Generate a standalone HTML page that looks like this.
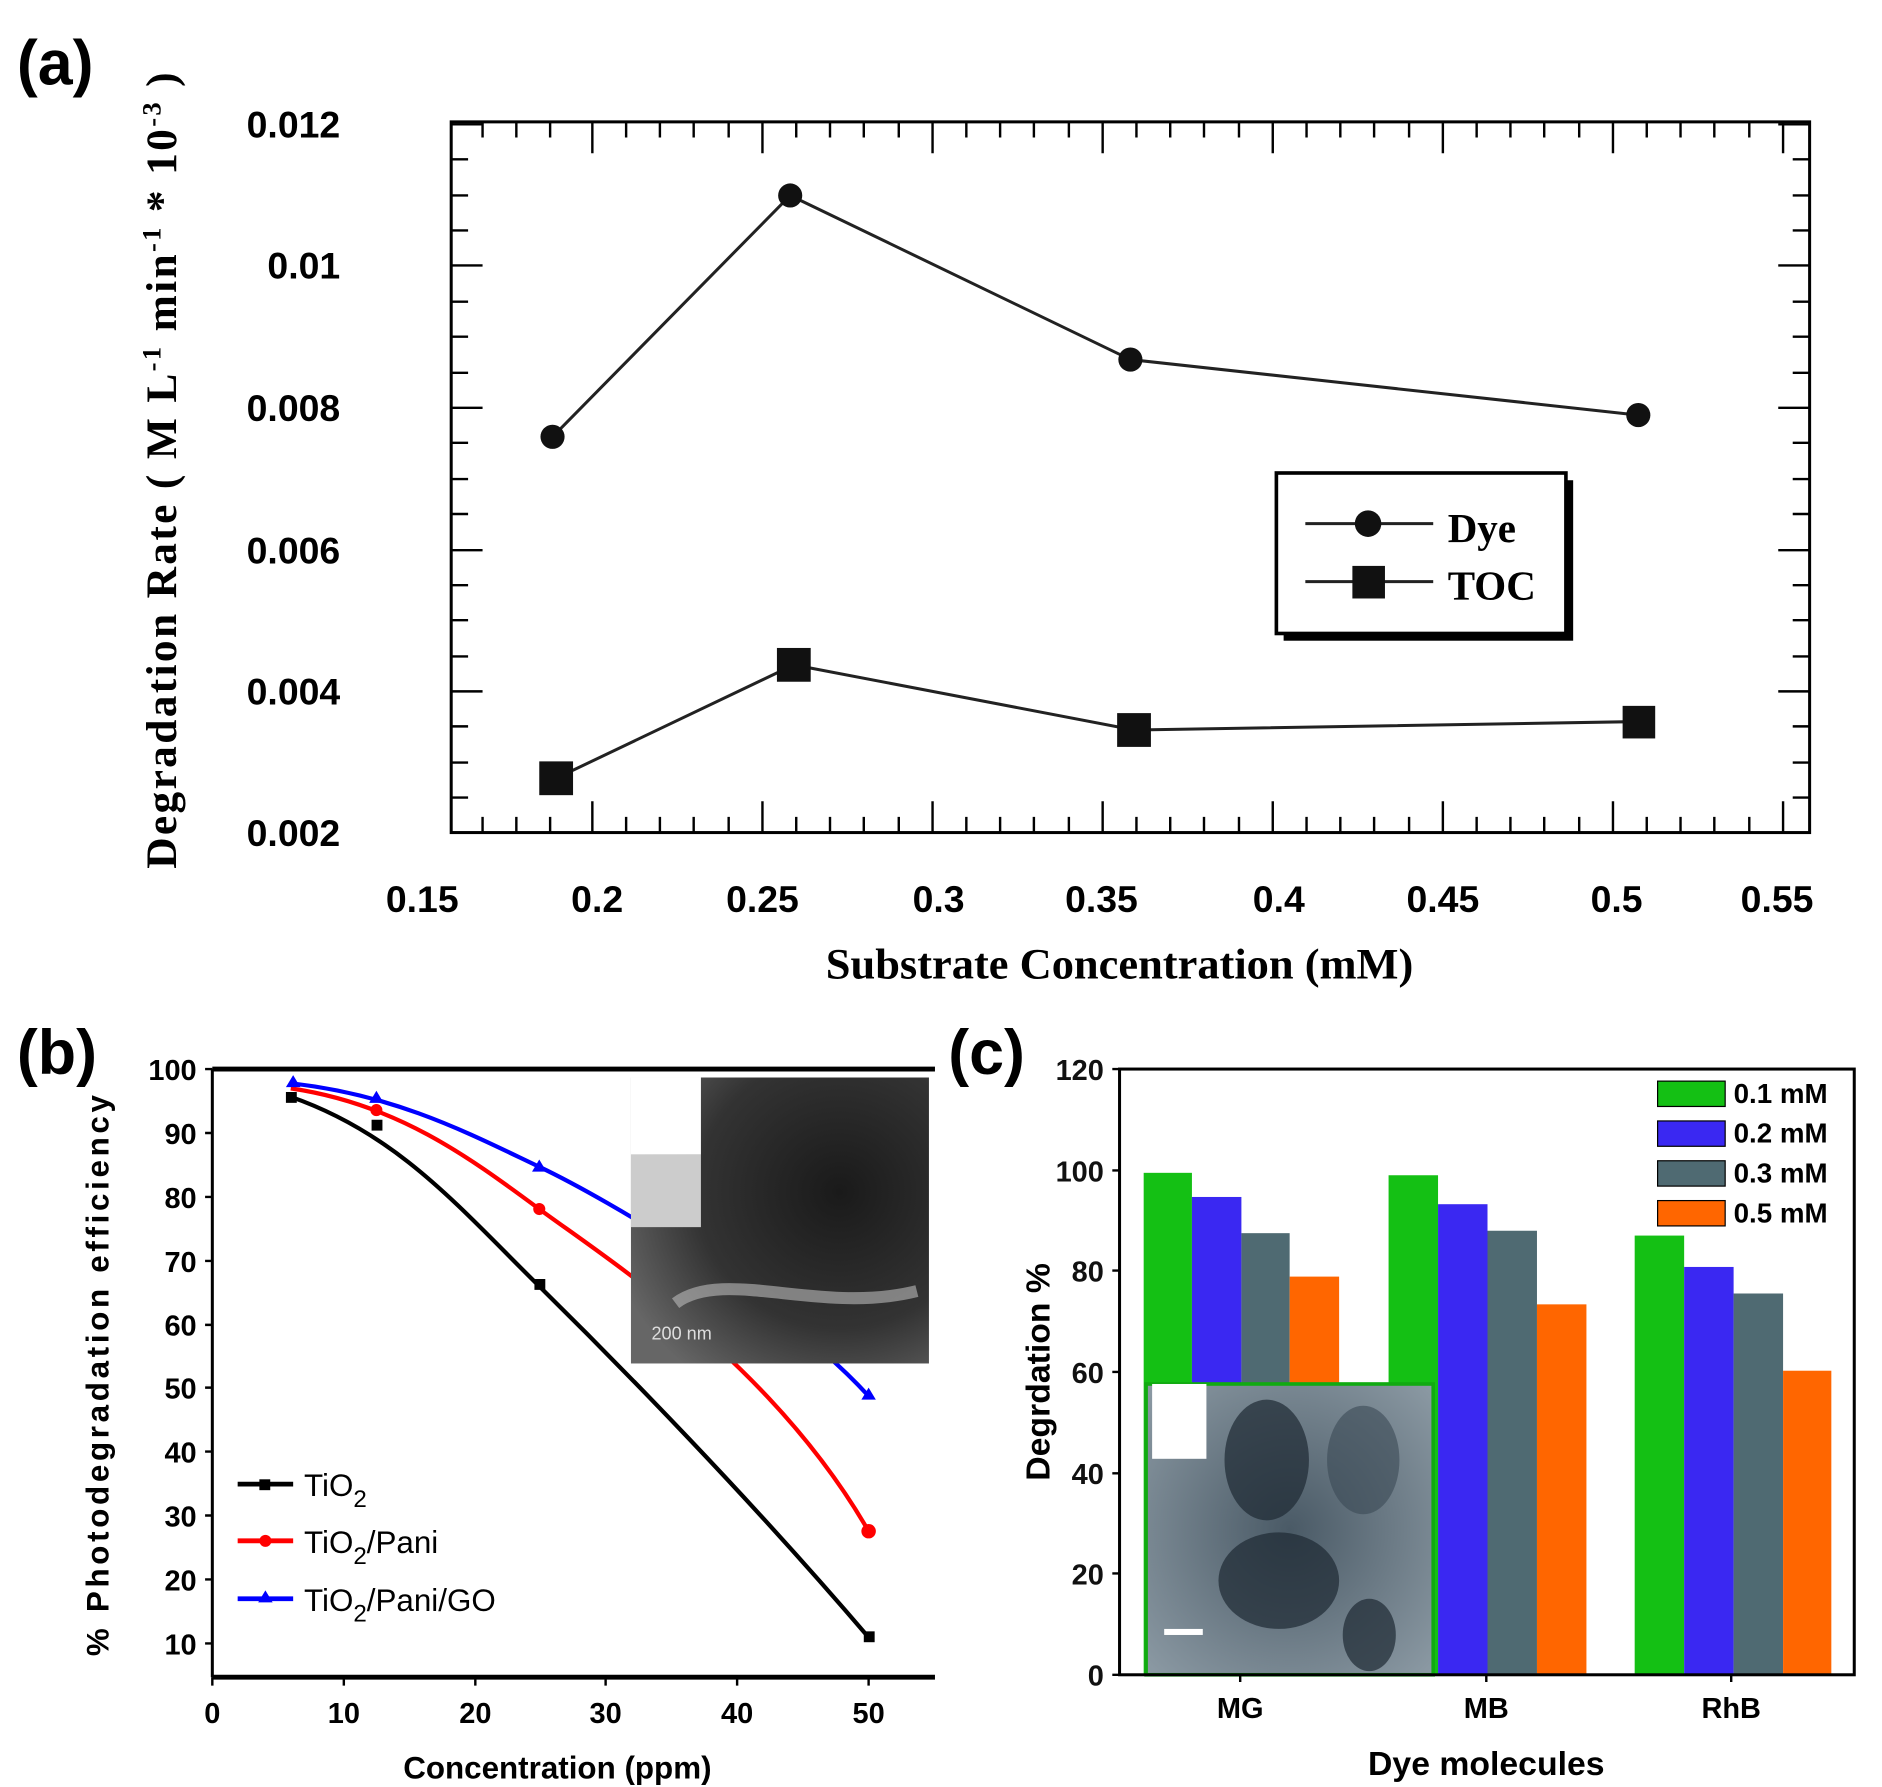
<!DOCTYPE html>
<html><head><meta charset="utf-8"><style>html,body{margin:0;padding:0;background:#fff}svg{display:block}</style></head>
<body>
<svg width="1882" height="1787" viewBox="0 0 1560 1481" xmlns="http://www.w3.org/2000/svg" preserveAspectRatio="none">
<defs>
<radialGradient id="tem1" cx="0.7" cy="0.4" r="0.8"><stop offset="0" stop-color="#1a1a1a"/><stop offset="0.6" stop-color="#333"/><stop offset="1" stop-color="#666"/></radialGradient>
<radialGradient id="tem2" cx="0.5" cy="0.5" r="0.7"><stop offset="0" stop-color="#4a5a66"/><stop offset="1" stop-color="#8c9aa4"/></radialGradient>
</defs>
<rect width="1560" height="1481" fill="#fff"/>
<g font-family="Liberation Sans, sans-serif" font-weight="bold">
<!-- Panel a -->
<text x="14" y="70" font-size="52">(a)</text>
<rect x="374" y="101" width="1126" height="589" fill="none" stroke="#000" stroke-width="2.5"/>
<g stroke="#000" stroke-width="2">
<path d="M374 103h26M374 220h26M374 338h26M374 456h26M374 573h26M1500 103h-26M1500 220h-26M1500 338h-26M1500 456h-26M1500 573h-26"/>
<path d="M374 132h14M374 162h14M374 191h14M374 250h14M374 279h14M374 309h14M374 367h14M374 397h14M374 426h14M374 485h14M374 514h14M374 544h14M374 602h14M374 632h14M374 661h14M1500 132h-14M1500 162h-14M1500 191h-14M1500 250h-14M1500 279h-14M1500 309h-14M1500 367h-14M1500 397h-14M1500 426h-14M1500 485h-14M1500 514h-14M1500 544h-14M1500 602h-14M1500 632h-14M1500 661h-14"/>
<path d="M491 690v-26M632 690v-26M773 690v-26M914 690v-26M1055 690v-26M1196 690v-26M1337 690v-26M1478 690v-26M491 101v26M632 101v26M773 101v26M914 101v26M1055 101v26M1196 101v26M1337 101v26M1478 101v26"/>
<path d="M400 690v-13M428 690v-13M456 690v-13M519 690v-13M547 690v-13M575 690v-13M604 690v-13M660 690v-13M688 690v-13M716 690v-13M745 690v-13M801 690v-13M829 690v-13M857 690v-13M886 690v-13M942 690v-13M970 690v-13M998 690v-13M1027 690v-13M1083 690v-13M1111 690v-13M1139 690v-13M1168 690v-13M1224 690v-13M1252 690v-13M1280 690v-13M1309 690v-13M1365 690v-13M1393 690v-13M1421 690v-13M1450 690v-13"/>
<path d="M400 101v13M428 101v13M456 101v13M519 101v13M547 101v13M575 101v13M604 101v13M660 101v13M688 101v13M716 101v13M745 101v13M801 101v13M829 101v13M857 101v13M886 101v13M942 101v13M970 101v13M998 101v13M1027 101v13M1083 101v13M1111 101v13M1139 101v13M1168 101v13M1224 101v13M1252 101v13M1280 101v13M1309 101v13M1365 101v13M1393 101v13M1421 101v13M1450 101v13"/>
</g>
<g font-size="31" text-anchor="end">
<text x="282" y="114">0.012</text><text x="282" y="231">0.01</text><text x="282" y="349">0.008</text><text x="282" y="467">0.006</text><text x="282" y="584">0.004</text><text x="282" y="701">0.002</text>
</g>
<g font-size="31" text-anchor="middle">
<text x="350" y="756">0.15</text><text x="495" y="756">0.2</text><text x="632" y="756">0.25</text><text x="778" y="756">0.3</text><text x="913" y="756">0.35</text><text x="1060" y="756">0.4</text><text x="1196" y="756">0.45</text><text x="1340" y="756">0.5</text><text x="1473" y="756">0.55</text>
</g>
<text x="928" y="811" font-family="Liberation Serif, serif" font-size="36" text-anchor="middle" textLength="487" lengthAdjust="spacingAndGlyphs">Substrate Concentration (mM)</text>
<text transform="translate(146,390) rotate(-90)" font-family="Liberation Serif, serif" font-size="36" text-anchor="middle" textLength="660" lengthAdjust="spacing">Degradation Rate ( M L<tspan dy="-13" font-size="22">-1</tspan><tspan dy="13">  min</tspan><tspan dy="-13" font-size="22">-1</tspan><tspan dy="13">  * 10</tspan><tspan dy="-13" font-size="22">-3</tspan><tspan dy="13">  )</tspan></text>
<polyline points="458,362 655,162 937,298 1358,344" fill="none" stroke="#222" stroke-width="2.5"/>
<g fill="#111"><circle cx="458" cy="362" r="10"/><circle cx="655" cy="162" r="10"/><circle cx="937" cy="298" r="10"/><circle cx="1358" cy="344" r="10"/></g>
<polyline points="461,645 658,551 940,605 1358,598" fill="none" stroke="#222" stroke-width="2.5"/>
<g fill="#111"><rect x="447" y="631" width="28" height="28"/><rect x="644" y="537" width="28" height="28"/><rect x="926" y="591" width="28" height="28"/><rect x="1345" y="585" width="27" height="27"/></g>
<rect x="1064" y="398" width="240" height="133" fill="#000"/>
<rect x="1058" y="392" width="240" height="133" fill="#fff" stroke="#000" stroke-width="3"/>
<path d="M1082 434h106M1082 482h106" stroke="#222" stroke-width="2.5"/>
<circle cx="1134" cy="434" r="11" fill="#111"/><rect x="1121" y="469" width="27" height="27" fill="#111"/>
<text x="1200" y="449" font-family="Liberation Serif, serif" font-size="34">Dye</text>
<text x="1200" y="497" font-family="Liberation Serif, serif" font-size="34">TOC</text>

<!-- Panel b -->
<text x="14" y="890" font-size="52">(b)</text>
<path d="M176 886h599M176 1390h599" stroke="#000" stroke-width="4"/>
<path d="M176 886v504" stroke="#000" stroke-width="2.5"/>
<g stroke="#000" stroke-width="2">
<path d="M176 886h-6M176 939h-6M176 992h-6M176 1045h-6M176 1098h-6M176 1150h-6M176 1203h-6M176 1256h-6M176 1309h-6M176 1362h-6"/>
<path d="M176 1390v7M285 1390v7M394 1390v7M502 1390v7M611 1390v7M720 1390v7"/>
</g>
<g font-size="24" text-anchor="end">
<text x="163" y="895">100</text><text x="163" y="948">90</text><text x="163" y="1001">80</text><text x="163" y="1054">70</text><text x="163" y="1107">60</text><text x="163" y="1159">50</text><text x="163" y="1212">40</text><text x="163" y="1265">30</text><text x="163" y="1318">20</text><text x="163" y="1371">10</text>
</g>
<g font-size="24" text-anchor="middle">
<text x="176" y="1428">0</text><text x="285" y="1428">10</text><text x="394" y="1428">20</text><text x="502" y="1428">30</text><text x="611" y="1428">40</text><text x="720" y="1428">50</text>
</g>
<text x="462" y="1474" font-size="26" text-anchor="middle">Concentration (ppm)</text>
<text transform="translate(90,1140) rotate(-90)" font-size="26" text-anchor="middle" textLength="465" lengthAdjust="spacing">% Photodegradation efficiency</text>
<path d="M241 909 C 330 940, 380 1000, 447 1066 S 620 1240, 720 1357" fill="none" stroke="#000" stroke-width="3.5"/>
<path d="M241 902 C 330 915, 390 960, 447 1002 S 640 1130, 720 1269" fill="none" stroke="#f00" stroke-width="3.5"/>
<path d="M243 898 C 330 908, 390 940, 447 967 S 650 1080, 720 1157" fill="none" stroke="#00f" stroke-width="3.5"/>
<g fill="#000"><rect x="237" y="905" width="9" height="9"/><rect x="308" y="928" width="9" height="9"/><rect x="443" y="1060" width="9" height="9"/><rect x="716" y="1352" width="9" height="9"/></g>
<g fill="#f00"><circle cx="312" cy="920" r="5"/><circle cx="447" cy="1002" r="5"/><circle cx="720" cy="1269" r="6"/></g>
<g fill="#00f"><path d="M243 891l6 10h-12z"/><path d="M312 904l6 10h-12z"/><path d="M447 961l6 10h-12z"/><path d="M720 1150l6 10h-12z"/></g>
<rect x="523" y="893" width="247" height="237" fill="url(#tem1)"/>
<rect x="523" y="893" width="58" height="64" fill="#fff"/>
<rect x="523" y="957" width="58" height="60" fill="#ccc"/>
<path d="M560 1080 C 600 1050, 680 1090, 760 1070" stroke="#bbb" stroke-width="10" fill="none" opacity="0.6"/>
<text x="540" y="1110" font-size="15" font-weight="normal" fill="#ddd">200 nm</text>
<path d="M197 1230h46" stroke="#000" stroke-width="4"/><rect x="215" y="1226" width="9" height="9"/>
<path d="M197 1277h46" stroke="#f00" stroke-width="4"/><circle cx="220" cy="1277" r="5" fill="#f00"/>
<path d="M197 1325h46" stroke="#00f" stroke-width="4"/><path d="M220 1318l6 10h-12z" fill="#00f"/>
<g font-size="26" font-weight="normal">
<text x="252" y="1240">TiO<tspan dy="9" font-size="20">2</tspan></text>
<text x="252" y="1287">TiO<tspan dy="9" font-size="20">2</tspan><tspan dy="-9">/Pani</tspan></text>
<text x="252" y="1335">TiO<tspan dy="9" font-size="20">2</tspan><tspan dy="-9">/Pani/GO</tspan></text>
</g>

<!-- Panel c -->
<text x="786" y="890" font-size="52">(c)</text>
<g>
<rect x="948" y="972" width="40" height="416" fill="#14c014"/><rect x="988" y="992" width="41" height="396" fill="#3a28f2"/><rect x="1029" y="1022" width="40" height="366" fill="#4f6a72"/><rect x="1069" y="1058" width="41" height="330" fill="#ff6600"/>
<rect x="1151" y="974" width="41" height="414" fill="#14c014"/><rect x="1192" y="998" width="41" height="390" fill="#3a28f2"/><rect x="1233" y="1020" width="41" height="368" fill="#4f6a72"/><rect x="1274" y="1081" width="41" height="307" fill="#ff6600"/>
<rect x="1355" y="1024" width="41" height="364" fill="#14c014"/><rect x="1396" y="1050" width="41" height="338" fill="#3a28f2"/><rect x="1437" y="1072" width="41" height="316" fill="#4f6a72"/><rect x="1478" y="1136" width="40" height="252" fill="#ff6600"/>
</g>
<rect x="950" y="1147" width="238" height="241" fill="url(#tem2)" stroke="#1a1" stroke-width="3"/>
<ellipse cx="1050" cy="1210" rx="35" ry="50" fill="#1e2a33" opacity="0.7"/><ellipse cx="1060" cy="1310" rx="50" ry="40" fill="#1e2a33" opacity="0.7"/><ellipse cx="1135" cy="1355" rx="22" ry="30" fill="#1e2a33" opacity="0.7"/><ellipse cx="1130" cy="1210" rx="30" ry="45" fill="#3a4a55" opacity="0.6"/>
<rect x="955" y="1147" width="45" height="62" fill="#fff"/>
<rect x="965" y="1350" width="32" height="5" fill="#fff"/>
<rect x="928" y="886" width="609" height="502" fill="none" stroke="#000" stroke-width="2.5"/>
<g stroke="#000" stroke-width="2"><path d="M928 886h-6M928 970h-6M928 1053h-6M928 1137h-6M928 1221h-6M928 1304h-6M928 1388h-6"/><path d="M1028 1388v6M1232 1388v6M1435 1388v6"/></g>
<g font-size="24" text-anchor="end" fill="#111">
<text x="915" y="895">120</text><text x="915" y="979">100</text><text x="915" y="1062">80</text><text x="915" y="1146">60</text><text x="915" y="1230">40</text><text x="915" y="1313">20</text><text x="915" y="1397">0</text>
</g>
<g font-size="24" text-anchor="middle"><text x="1028" y="1424">MG</text><text x="1232" y="1424">MB</text><text x="1435" y="1424">RhB</text></g>
<text x="1232" y="1471" font-size="28" text-anchor="middle">Dye molecules</text>
<text transform="translate(870,1137) rotate(-90)" font-size="28" text-anchor="middle">Degrdation %</text>
<rect x="1374" y="896" width="56" height="21" fill="#14c014" stroke="#000"/><rect x="1374" y="929" width="56" height="21" fill="#3a28f2" stroke="#000"/><rect x="1374" y="962" width="56" height="21" fill="#4f6a72" stroke="#000"/><rect x="1374" y="995" width="56" height="21" fill="#ff6600" stroke="#000"/>
<g font-size="23"><text x="1437" y="914">0.1 mM</text><text x="1437" y="947">0.2 mM</text><text x="1437" y="980">0.3 mM</text><text x="1437" y="1013">0.5 mM</text></g>
</g>
</svg>
</body></html>
